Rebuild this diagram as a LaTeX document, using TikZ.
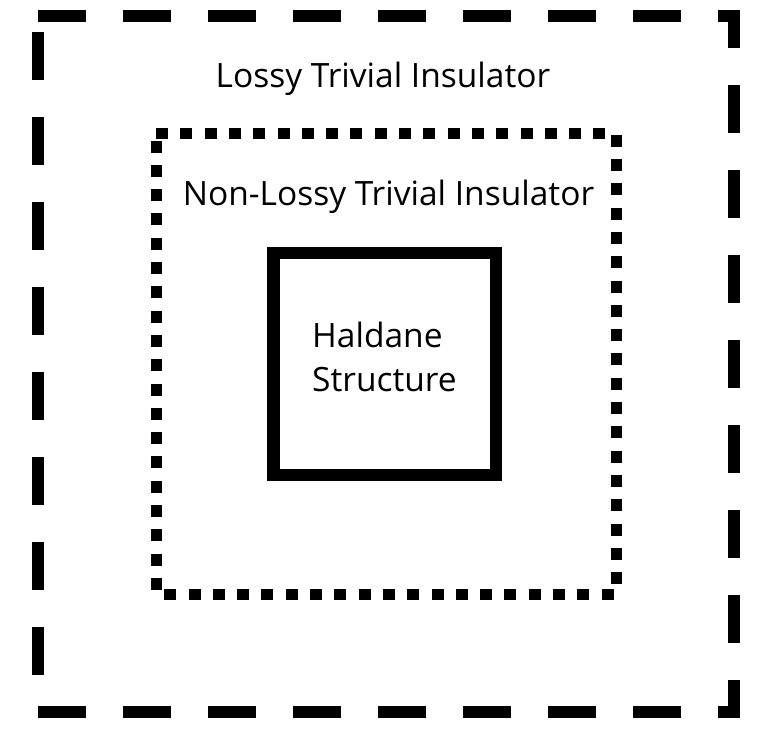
\documentclass[tikz,border=0pt]{standalone}
\usepackage{fontspec}
\setmainfont{Open Sans}
\begin{document}
\begin{tikzpicture}[x=1pt,y=-1pt,
  outerbox/.style={draw=black,line width=12pt,line join=miter,dash pattern=on 48pt off 37pt},
  dotbox/.style={draw=black,line width=11pt,line join=miter,dash pattern=on 12pt off 12.3pt},
  solidbox/.style={draw=black,line width=12.5pt,line join=miter},
  lbl/.style={inner sep=0pt,font=\fontsize{33.5}{44}\selectfont}]
\useasboundingbox (0,0) rectangle (768,734);
\fill[white] (0,0) rectangle (768,734);
\coordinate (o1) at (38,16);
\coordinate (o2) at (734,16);
\coordinate (o3) at (734,712);
\coordinate (o4) at (38,712);
\draw[outerbox] (o1) -- (o2) -- (o3) -- (o4) -- cycle;
\coordinate (d1) at (156,133);
\coordinate (d2) at (616,133);
\coordinate (d3) at (616,594);
\coordinate (d4) at (156,594);
\draw[dotbox] (d1) -- (d2) -- (d3) -- (d4) -- cycle;
\coordinate (s1) at (273.5,253);
\coordinate (s2) at (496,253);
\coordinate (s3) at (496,475);
\coordinate (s4) at (273.5,475);
\draw[solidbox] (s1) -- (s2) -- (s3) -- (s4) -- cycle;
\node[lbl,anchor=base] (lossy) at (383,87) {Lossy Trivial Insulator};
\node[lbl,anchor=base] (nonlossy) at (388.5,205) {Non-Lossy Trivial Insulator};
\node[lbl,anchor=base west,align=left] (hal) at (312,391) {Haldane\\Structure};
\end{tikzpicture}
\end{document}
